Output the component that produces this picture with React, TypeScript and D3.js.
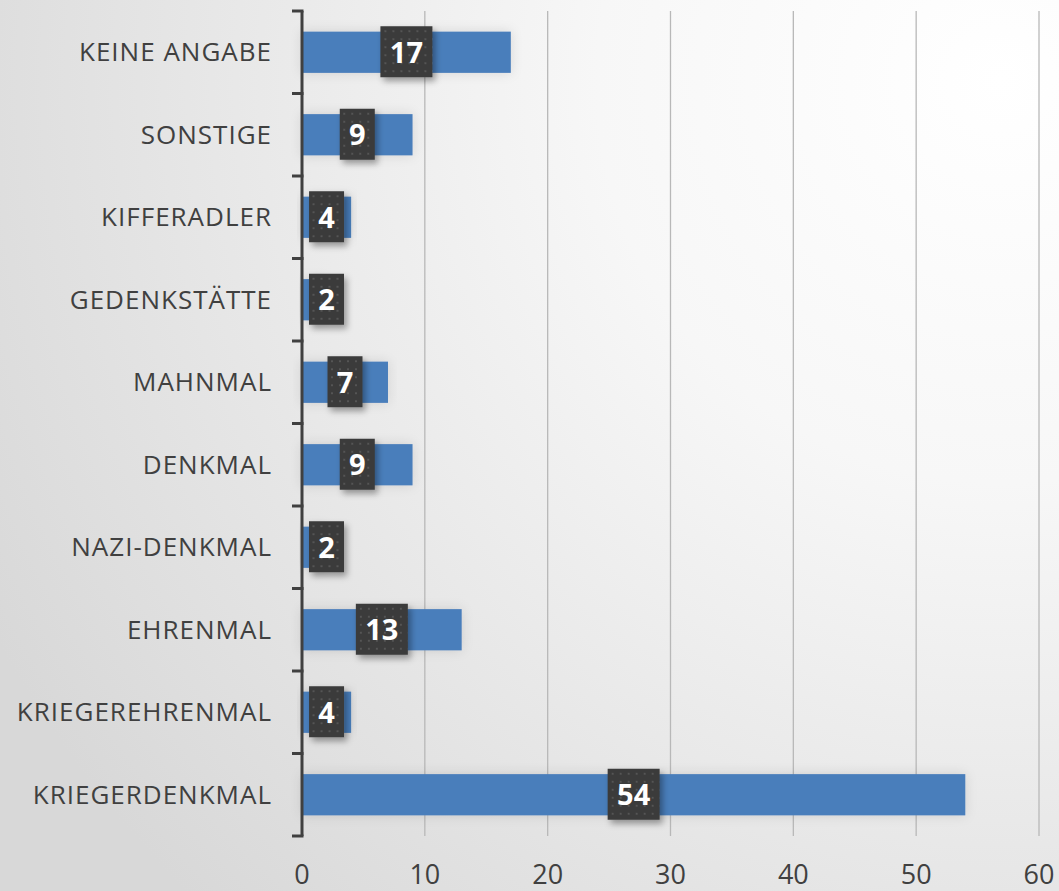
import * as d3 from "d3";
import { useEffect, useRef } from "react";

const categories = [
  "KEINE ANGABE",
  "SONSTIGE",
  "KIFFERADLER",
  "GEDENKSTÄTTE",
  "MAHNMAL",
  "DENKMAL",
  "NAZI-DENKMAL",
  "EHRENMAL",
  "KRIEGEREHRENMAL",
  "KRIEGERDENKMAL",
];
const values = [17, 9, 4, 2, 7, 9, 2, 13, 4, 54];
const xTicks = [0, 10, 20, 30, 40, 50, 60];

export default function App() {
  const ref = useRef<SVGSVGElement>(null);

  useEffect(() => {
    const width = 1059;
    const height = 891;
    const svg = d3.select(ref.current).attr("width", width).attr("height", height);
    svg.selectAll("*").remove();

    const defs = svg.append("defs");
    const bg = defs.append("radialGradient")
      .attr("id", "bg").attr("gradientUnits", "userSpaceOnUse")
      .attr("cx", 1000).attr("cy", 80).attr("r", 1150);
    bg.append("stop").attr("offset", "0%").attr("stop-color", "#ffffff");
    bg.append("stop").attr("offset", "35%").attr("stop-color", "#f7f7f7");
    bg.append("stop").attr("offset", "100%").attr("stop-color", "#d8d8d8");

    const pat = defs.append("pattern").attr("id", "dots")
      .attr("patternUnits", "userSpaceOnUse").attr("width", 8).attr("height", 8);
    pat.append("rect").attr("width", 8).attr("height", 8).attr("fill", "#3a3a3a");
    pat.append("rect").attr("x", 2).attr("y", 2).attr("width", 2).attr("height", 2).attr("fill", "#555");

    const sh = defs.append("filter").attr("id", "shadow")
      .attr("x", "-30%").attr("y", "-30%").attr("width", "160%").attr("height", "160%");
    sh.append("feDropShadow").attr("dx", 3).attr("dy", 4).attr("stdDeviation", 3)
      .attr("flood-color", "#000").attr("flood-opacity", 0.35);

    const bsh = defs.append("filter").attr("id", "barshadow")
      .attr("x", "-10%").attr("y", "-50%").attr("width", "120%").attr("height", "200%");
    bsh.append("feDropShadow").attr("dx", 0).attr("dy", 0).attr("stdDeviation", 6)
      .attr("flood-color", "#000").attr("flood-opacity", 0.12);

    svg.append("rect").attr("width", width).attr("height", height).attr("fill", "url(#bg)");

    const x = d3.scaleLinear().domain([0, 60]).range([302, 1039]);
    const y = d3.scaleBand().domain(categories).range([11, 836]).paddingInner(0.5).paddingOuter(0.25);
    const band = d3.scaleBand().domain(categories).range([11, 836]);

    // gridlines
    svg.append("g").selectAll("line").data(xTicks.slice(1)).join("line")
      .attr("x1", d => x(d)).attr("x2", d => x(d))
      .attr("y1", 11).attr("y2", 836)
      .attr("stroke", "#b8b8b8").attr("stroke-width", 1.3);

    // bars
    svg.append("g").selectAll("rect").data(values).join("rect")
      .attr("x", x(0))
      .attr("y", (_, i) => y(categories[i])!)
      .attr("width", d => x(d) - x(0))
      .attr("height", y.bandwidth())
      .attr("fill", "#4a7ebb")
      .attr("filter", "url(#barshadow)");

    // axis line with ticks
    const axis = svg.append("g").attr("stroke", "#404040").attr("stroke-width", 3).attr("fill", "none");
    axis.append("line").attr("x1", x(0)).attr("x2", x(0)).attr("y1", 11).attr("y2", 836);
    const bounds = categories.map(c => band(c)!).concat([836]);
    axis.selectAll("line.tick").data(bounds).join("line").attr("class", "tick")
      .attr("x1", x(0) - 10).attr("x2", x(0) + 1.5)
      .attr("y1", d => d).attr("y2", d => d);

    // category labels
    svg.append("g").selectAll("text").data(categories).join("text")
      .attr("x", 272)
      .attr("y", d => band(d)! + band.bandwidth() / 2)
      .attr("dy", "0.35em")
      .attr("text-anchor", "end")
      .attr("font-family", "'Open Sans', sans-serif")
      .attr("font-size", 26)
      .attr("letter-spacing", 1)
      .attr("fill", "#404040")
      .text(d => d);

    // x tick labels
    svg.append("g").selectAll("text").data(xTicks).join("text")
      .attr("x", d => x(d))
      .attr("y", 875)
      .attr("dy", "0.35em")
      .attr("text-anchor", "middle")
      .attr("font-family", "'Open Sans', sans-serif")
      .attr("font-size", 27)
      .attr("fill", "#404040")
      .text(d => d);

    // value labels
    const lbl = svg.append("g").selectAll("g").data(values).join("g")
      .attr("transform", (d, i) => {
        const w = String(d).length > 1 ? 52 : 35;
        let cx = (x(0) + x(d)) / 2;
        cx = Math.max(cx, x(0) + 7 + w / 2);
        return `translate(${cx},${y(categories[i])! + y.bandwidth() / 2})`;
      });
    lbl.append("rect")
      .attr("x", d => -(String(d).length > 1 ? 52 : 35) / 2)
      .attr("y", -26)
      .attr("width", d => (String(d).length > 1 ? 52 : 35))
      .attr("height", 51)
      .attr("fill", "url(#dots)")
      .attr("filter", "url(#shadow)");
    lbl.append("text")
      .attr("text-anchor", "middle")
      .attr("dy", "0.36em")
      .attr("font-family", "'Open Sans', sans-serif")
      .attr("font-weight", "bold")
      .attr("font-size", 29)
      .attr("fill", "#ffffff")
      .text(d => d);
  }, []);

  return (
    <svg ref={ref} style={{ position: "absolute", left: 0, top: 0, display: "block" }}></svg>
  );
}
